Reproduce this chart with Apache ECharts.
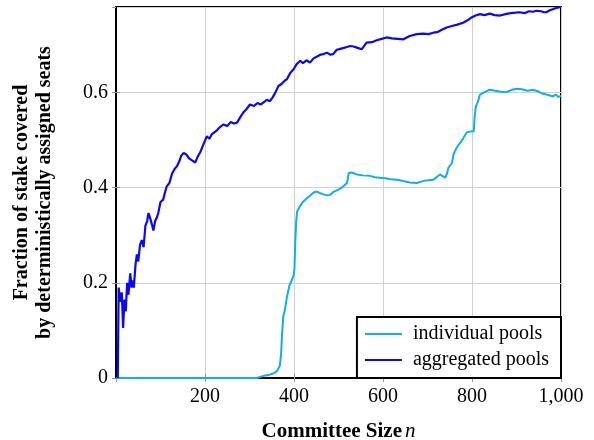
<!DOCTYPE html>
<html>
<head>
<meta charset="utf-8">
<script src="https://cdn.jsdelivr.net/npm/echarts@6/dist/echarts.min.js"></script>
<style>
  html, body { margin: 0; padding: 0; background: #fff; }
  #chart { width: 594px; height: 440px; }
</style>
</head>
<body>
<div id="chart"></div>
<script>
// Committee size n and fraction of stake covered, as [n, fraction] pairs
const individualPools = [
  [0,0],[316,0],[330,0.004],[345,0.007],[355,0.01],[362,0.015],[368,0.025],[371,0.05],
  [373,0.09],[376,0.13],[380,0.145],[384,0.17],[390,0.195],[395,0.206],[399,0.215],
  [401,0.23],[403,0.29],[405,0.33],[407,0.35],[414,0.362],[420,0.37],[429,0.378],
  [436,0.383],[444,0.39],[451,0.392],[458,0.389],[466,0.386],[474,0.384],[481,0.385],
  [490,0.392],[500,0.396],[511,0.403],[519,0.41],[521,0.42],[523,0.431],[530,0.432],
  [541,0.428],[555,0.426],[570,0.425],[582,0.422],[593,0.421],[605,0.42],[618,0.418],
  [631,0.417],[645,0.414],[660,0.411],[676,0.41],[690,0.414],[703,0.416],[713,0.417],
  [720,0.422],[728,0.428],[735,0.424],[740,0.421],[744,0.43],[747,0.442],[751,0.446],
  [755,0.452],[758,0.468],[762,0.478],[768,0.488],[775,0.496],[781,0.505],[788,0.516],
  [795,0.518],[804,0.519],[806,0.55],[809,0.572],[813,0.58],[818,0.596],[828,0.601],
  [840,0.606],[852,0.604],[865,0.602],[878,0.601],[890,0.606],[900,0.608],[912,0.607],
  [925,0.604],[937,0.606],[948,0.603],[958,0.598],[967,0.596],[975,0.594],[982,0.592],
  [988,0.596],[994,0.591],[1000,0.593]
];

const aggregatedPools = [
  [4,0],[6,0.19],[10,0.16],[13,0.18],[16,0.105],[19,0.165],[22,0.14],[25,0.2],
  [28,0.175],[32,0.22],[35,0.19],[38,0.205],[40,0.19],[44,0.24],[47,0.26],[50,0.245],
  [54,0.28],[58,0.29],[62,0.275],[66,0.32],[70,0.33],[73,0.347],[77,0.335],[81,0.322],
  [84,0.31],[88,0.33],[92,0.338],[95,0.347],[100,0.37],[106,0.375],[110,0.39],[114,0.403],
  [120,0.41],[126,0.43],[132,0.44],[137,0.445],[142,0.455],[147,0.468],[152,0.473],
  [158,0.47],[164,0.462],[170,0.458],[178,0.453],[184,0.466],[189,0.474],[196,0.49],
  [204,0.508],[210,0.503],[215,0.512],[219,0.508],[226,0.52],[233,0.527],[241,0.533],
  [250,0.53],[258,0.538],[265,0.535],[272,0.537],[279,0.548],[286,0.558],[293,0.565],
  [301,0.575],[310,0.572],[318,0.578],[325,0.575],[331,0.579],[339,0.585],[346,0.582],
  [352,0.59],[358,0.6],[365,0.614],[372,0.618],[379,0.625],[384,0.628],[392,0.642],
  [399,0.649],[406,0.66],[414,0.667],[420,0.662],[428,0.668],[436,0.663],[444,0.672],
  [452,0.676],[460,0.68],[466,0.681],[474,0.684],[481,0.68],[488,0.681],[496,0.69],
  [504,0.692],[512,0.694],[519,0.696],[526,0.698],[534,0.697],[543,0.694],[552,0.691],
  [563,0.705],[575,0.706],[586,0.71],[597,0.713],[608,0.716],[620,0.714],[633,0.713],
  [646,0.712],[660,0.719],[676,0.723],[690,0.724],[702,0.723],[713,0.726],[722,0.727],
  [730,0.731],[743,0.737],[755,0.74],[767,0.743],[780,0.747],[790,0.752],[799,0.758],
  [808,0.762],[818,0.765],[828,0.763],[840,0.766],[851,0.763],[863,0.762],[875,0.765],
  [887,0.767],[898,0.768],[907,0.769],[918,0.767],[928,0.771],[937,0.77],[945,0.772],
  [955,0.771],[962,0.769],[967,0.769],[975,0.773],[983,0.776],[990,0.778],[1000,0.78]
];

const seriesNames = ['individual pools', 'aggregated pools'];
const seriesColors = ['#12aeec', '#0a0af2'];
const xRange = [0, 1000];
const yRange = [0, 0.78];

const FONT = "'Liberation Serif', 'DejaVu Serif', serif";
const gridColor = '#d0d0d0';
const tickColor = '#9a9a9a';
const frameLine = { show: true, lineStyle: { color: '#000', width: 2 } };

// legend sample: a 37px stroke followed by empty space before the label
const legendIcon = 'path://M0,4 L37,4 L37,6 L0,6 Z M0,0 L43,0 Z M0,10 L43,10 Z';

const chart = echarts.init(document.getElementById('chart'), null, { renderer: 'canvas' });

const mirrorTicks = {
  show: true, inside: true, length: 4, lineStyle: { color: tickColor, width: 1 }
};

chart.setOption({
  animation: false,
  backgroundColor: '#ffffff',
  textStyle: { fontFamily: FONT, color: '#000' },
  grid: {
    left: 116, right: 33, top: 7, bottom: 62,
    outerBoundsMode: 'none', containLabel: false,
    show: true, borderColor: '#000', borderWidth: 2, backgroundColor: 'transparent'
  },
  legend: {
    orient: 'vertical',
    right: 33, bottom: 62,
    backgroundColor: '#fff',
    borderColor: '#000', borderWidth: 2, borderRadius: 0,
    padding: [7, 12, 8, 8],
    itemWidth: 43, itemHeight: 10, itemGap: 6,
    itemStyle: { borderWidth: 0 },
    textStyle: { fontFamily: FONT, fontSize: 20, color: '#000' },
    data: seriesNames.map(n => ({ name: n, icon: legendIcon }))
  },
  xAxis: [{
    type: 'value', min: xRange[0], max: xRange[1], interval: 200,
    name: '{b|Committee Size} {i|n}',
    nameLocation: 'middle', nameGap: 43,
    nameTextStyle: {
      rich: {
        b: { fontFamily: FONT, fontSize: 21, fontWeight: 'bold', color: '#000' },
        i: { fontFamily: FONT, fontSize: 21, fontStyle: 'italic', color: '#000' }
      }
    },
    axisLine: frameLine,
    axisTick: { show: true, inside: true, length: 4, lineStyle: { color: tickColor } },
    axisLabel: {
      showMinLabel: false, margin: 9,
      fontFamily: FONT, fontSize: 20, color: '#000',
      formatter: v => v.toLocaleString('en-US')
    },
    splitLine: { show: true, lineStyle: { color: gridColor, width: 1 } }
  }, {
    type: 'value', position: 'top', min: xRange[0], max: xRange[1], interval: 200,
    axisLine: frameLine, axisTick: mirrorTicks,
    axisLabel: { show: false }, splitLine: { show: false }
  }],
  yAxis: [{
    type: 'value', min: yRange[0], max: yRange[1], interval: 0.2,
    name: 'Fraction of stake covered\nby deterministically assigned seats',
    nameLocation: 'middle', nameRotate: 90, nameGap: 60,
    nameTextStyle: {
      fontFamily: FONT, fontSize: 20, fontWeight: 'bold', color: '#000', lineHeight: 23
    },
    axisLine: frameLine,
    axisTick: { show: true, inside: true, length: 4, lineStyle: { color: tickColor } },
    axisLabel: {
      showMaxLabel: false, margin: 8,
      fontFamily: FONT, fontSize: 20, color: '#000',
      formatter: v => (v === 0 ? '0' : v.toFixed(1))
    },
    splitLine: { show: true, lineStyle: { color: gridColor, width: 1 } }
  }, {
    type: 'value', position: 'right', min: yRange[0], max: yRange[1], interval: 0.2,
    axisLine: frameLine, axisTick: mirrorTicks,
    axisLabel: { show: false }, splitLine: { show: false }
  }],
  series: [
    {
      name: seriesNames[0], type: 'line', data: individualPools,
      showSymbol: false, symbol: 'none', smooth: false, z: 3,
      lineStyle: { color: seriesColors[0], width: 2 },
      itemStyle: { color: seriesColors[0] }
    },
    {
      name: seriesNames[1], type: 'line', data: aggregatedPools,
      showSymbol: false, symbol: 'none', smooth: false, z: 4,
      lineStyle: { color: seriesColors[1], width: 2.2 },
      itemStyle: { color: seriesColors[1] }
    }
  ]
});
</script>
</body>
</html>
